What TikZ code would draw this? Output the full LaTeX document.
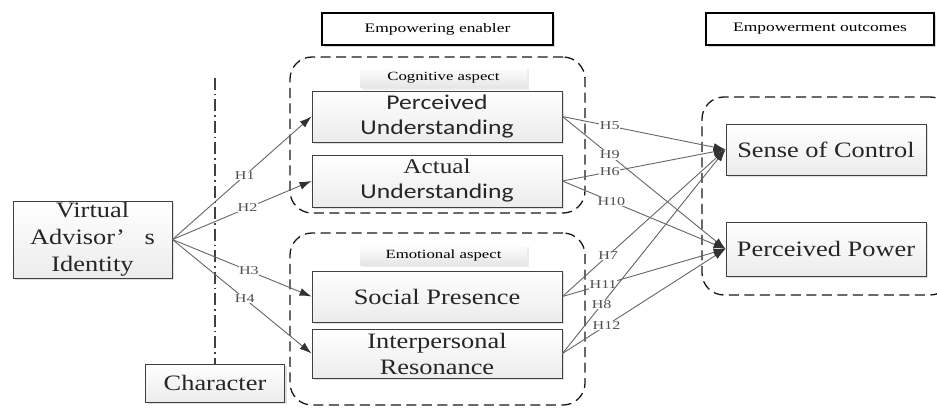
\documentclass[tikz,border=0pt]{standalone}
\usepackage{fontspec}
\setmainfont{Liberation Serif}
\newfontfamily\serifbig{Liberation Serif}[FakeStretch=1.2]
\newfontfamily\smallserif{Liberation Serif}[FakeStretch=1.34]
\newfontfamily\sansfont{Carlito}[FakeStretch=1.22]
\usetikzlibrary{arrows.meta,shadows}
\definecolor{boxline}{HTML}{404040}
\definecolor{arrowgray}{HTML}{666666}
\definecolor{tipgray}{HTML}{333333}
\definecolor{labgray}{HTML}{505050}
\tikzset{
  box/.style={draw=boxline, line width=0.9pt, top color=white, bottom color=gray!15,
    drop shadow={shadow xshift=2pt, shadow yshift=-2pt, opacity=0.25, fill=gray},
    align=center, inner sep=0pt, text=black!85, font=\serifbig\fontsize{22}{27}\selectfont},
  hdr/.style={draw=black, line width=2.2pt, fill=white,
    drop shadow={shadow xshift=2pt, shadow yshift=-2pt, opacity=0.3, fill=gray},
    inner sep=0pt, font=\smallserif\fontsize{13}{15}\selectfont},
  asp/.style={top color=white, bottom color=gray!20, draw=none,
    drop shadow={shadow xshift=2pt, shadow yshift=-2pt, opacity=0.15, fill=gray},
    inner sep=0pt, minimum width=167pt, minimum height=21pt,
    font=\smallserif\fontsize{12.5}{14}\selectfont},
  grp/.style={draw=black!90, dash pattern=on 10pt off 5.5pt, line width=1.3pt,
    rounded corners=22pt, inner sep=0pt},
  arr/.style={draw=arrowgray, line width=0.9pt, -{Latex[length=12pt,width=8pt,color=tipgray]}},
  hl/.style={fill=white, inner sep=0.6pt, text=labgray, font=\smallserif\fontsize{12}{13}\selectfont},
  ddline/.style={draw=black!75, line width=1.2pt, dash pattern=on 12pt off 4pt on 1.5pt off 4pt}
}
\begin{document}
\begin{tikzpicture}[x=1pt,y=-1pt]
\useasboundingbox[fill=white] (0,0) rectangle (937,409);
% dashed groups
\node[grp, minimum width=295pt, minimum height=156pt] (cog) at (437.5,135) {};
\node[grp, minimum width=295pt, minimum height=172pt] (emo) at (437.5,319) {};
\node[grp, minimum width=250pt, minimum height=198pt] (out) at (827,196) {};
% headers
\node[hdr, minimum width=231pt, minimum height=32pt] (eh) at (437.5,29) {Empowering enabler};
\node[hdr, minimum width=228pt, minimum height=32pt] (oh) at (820,29) {Empowerment outcomes};
% aspect labels
\node[asp] (cogl) at (443.5,77.5) {Cognitive aspect};
\node[asp, minimum height=20pt] (emol) at (443.5,255) {Emotional aspect};
% boxes
\node[box, minimum width=159pt, minimum height=77pt] (vai) at (92.5,239.5) {Virtual\\Advisor’\hspace{0.9em}s\\Identity};
\node[box, minimum width=139pt, minimum height=38pt] (ch) at (215,383) {Character};
\node[box, minimum width=250pt, minimum height=51pt, font=\sansfont\fontsize{21}{25}\selectfont] (pu) at (437,116.5) {Perceived\\Understanding};
\node[box, minimum width=250pt, minimum height=52pt, font=\serifbig\fontsize{21}{25}\selectfont] (au) at (437,181) {Actual\\{\sansfont Understanding}};
\node[box, minimum width=250pt, minimum height=51pt] (sp) at (437,296.5) {Social Presence};
\node[box, minimum width=250pt, minimum height=49pt, font=\serifbig\fontsize{22}{26}\selectfont] (ir) at (437,353.5) {Interpersonal\\Resonance};
\node[box, minimum width=200pt, minimum height=51pt] (sc) at (826,149.5) {Sense of Control};
\node[box, minimum width=200pt, minimum height=54pt] (pp) at (826,249) {Perceived Power};
% dash-dot line
\coordinate (ddtop) at (215,78);
\draw[ddline] (ddtop) -- (ch.north);
% left arrows
\draw[arr] (vai.east) -- node[hl, pos=0.52] {H1} (pu.west);
\draw[arr] (vai.east) -- node[hl, pos=0.54] {H2} (au.west);
\draw[arr] (vai.east) -- node[hl, pos=0.55] {H3} (sp.west);
\draw[arr] (vai.east) -- node[hl, pos=0.52] {H4} (ir.west);
% right arrows
\draw[arr] (pu.east) -- node[hl, pos=0.29] {H5} (sc.west);
\draw[arr] (pu.east) -- node[hl, pos=0.29] {H9} (pp.west);
\draw[arr] (au.east) -- node[hl, pos=0.29] {H6} (sc.west);
\draw[arr] (au.east) -- node[hl, pos=0.30] {H10} (pp.west);
\draw[arr] (sp.east) -- node[hl, pos=0.28] {H7} (sc.west);
\draw[arr] (sp.east) -- node[hl, pos=0.25] {H11} (pp.west);
\draw[arr] (ir.east) -- node[hl, pos=0.24] {H8} (sc.west);
\draw[arr] (ir.east) -- node[hl, pos=0.27] {H12} (pp.west);
\end{tikzpicture}
\end{document}
